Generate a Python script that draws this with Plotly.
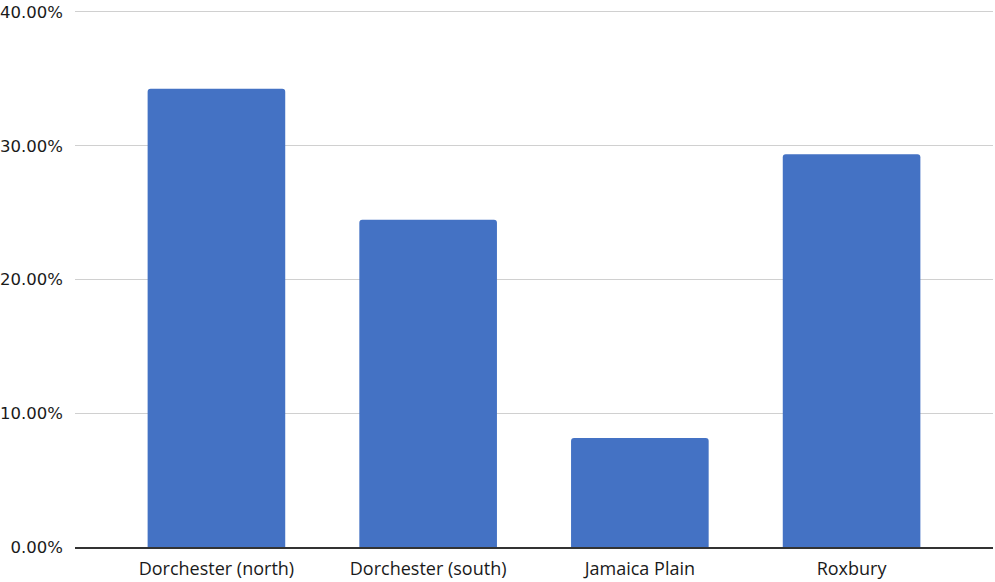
import plotly.graph_objects as go

neighborhoods = ["Dorchester (north)", "Dorchester (south)", "Jamaica Plain", "Roxbury"]
shares = [0.3425, 0.2446, 0.0815, 0.2937]
y_ticks = [0.0, 0.10, 0.20, 0.30, 0.40]
y_tick_text = ["0.00%", "10.00%", "20.00%", "30.00%", "40.00%"]

fig = go.Figure(
    go.Bar(
        x=neighborhoods,
        y=shares,
        width=0.65,
        marker=dict(color="#4472C4", cornerradius=3, line=dict(width=0)),
        hovertemplate="%{x}: %{y:.2%}<extra></extra>",
    )
)

fig.update_layout(
    width=995,
    height=582,
    margin=dict(l=75, r=2, t=5, b=35),
    paper_bgcolor="white",
    plot_bgcolor="white",
    showlegend=False,
    font=dict(family="Open Sans, Lato, sans-serif", color="#1a1a1a"),
)

fig.update_xaxes(
    range=[-0.668, 3.668],
    showgrid=False,
    showline=True,
    linecolor="#333333",
    linewidth=1.5,
    ticks="",
    tickfont=dict(size=18),
    ticklabelstandoff=5,
    automargin=False,
)

fig.update_yaxes(
    range=[0, 0.4052],
    tickvals=y_ticks,
    ticktext=y_tick_text,
    showgrid=True,
    gridcolor="#d0d0d0",
    gridwidth=1,
    zeroline=False,
    showline=False,
    ticks="",
    tickfont=dict(family="DejaVu Sans, sans-serif", size=16.5),
    ticklabelstandoff=11,
    ticklabeloverflow="allow",
    automargin=False,
)

fig.write_html("out.html")
